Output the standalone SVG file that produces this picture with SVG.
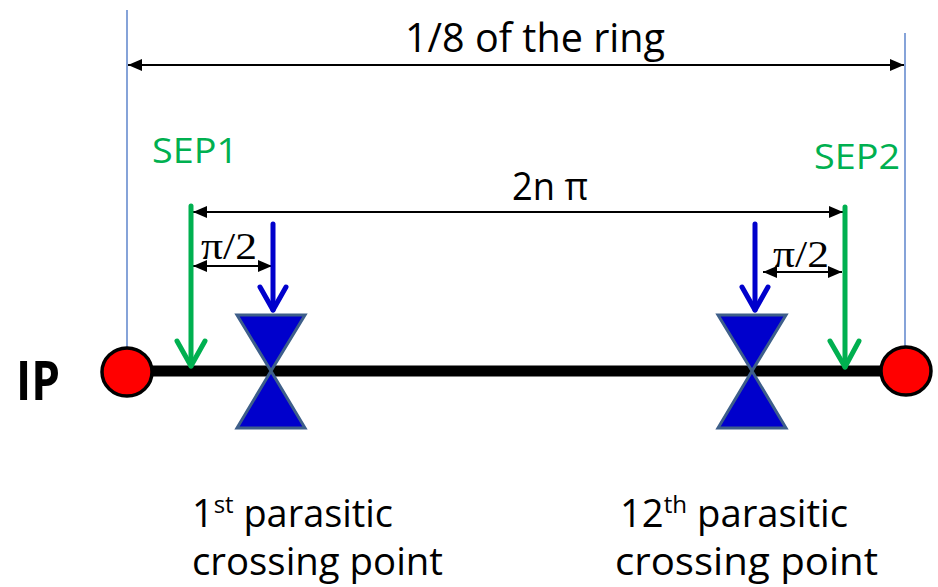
<svg xmlns="http://www.w3.org/2000/svg" width="938" height="587" viewBox="0 0 938 587">
<style>
.txt{font-family:"Open Sans","Liberation Sans",sans-serif;fill:#000}
.sep{font-family:"Open Sans","Liberation Sans",sans-serif;fill:#00B050}
.pi{font-family:"Liberation Serif","Times New Roman",serif;fill:#000}
.ref{stroke:#4472C4;stroke-width:1.3;fill:none}
.dim{stroke:#000;stroke-width:2.2;fill:none}
.green{stroke:#00B050;stroke-width:5;fill:none;stroke-linecap:round;stroke-linejoin:round}
.blue{stroke:#0000CC;stroke-width:5;fill:none;stroke-linecap:round;stroke-linejoin:round}
.bow{fill:#0000CC;stroke:#3E5F8A;stroke-width:3;stroke-linejoin:miter}
.ip{fill:#FF0000;stroke:#000;stroke-width:3.5}
</style>
<defs>
<marker id="ah" markerUnits="userSpaceOnUse" markerWidth="16" markerHeight="14" refX="14" refY="7" orient="auto-start-reverse">
<path d="M0,1 L14,7 L0,13 Z" fill="#000"/>
</marker>
</defs>
<g id="reference-lines">
<line class="ref" x1="127" y1="10" x2="127" y2="371"/>
<line class="ref" x1="905" y1="33" x2="905" y2="371"/>
</g>
<g id="beamline">
<line x1="127" y1="371" x2="906" y2="371" stroke="#000" stroke-width="11"/>
</g>
<g id="connectors">
<line class="dim" x1="128" y1="65" x2="904" y2="65" marker-start="url(#ah)" marker-end="url(#ah)"/>
<line class="dim" x1="193" y1="212" x2="843" y2="212" marker-start="url(#ah)" marker-end="url(#ah)"/>
<line class="dim" x1="193" y1="266" x2="272" y2="266" marker-start="url(#ah)" marker-end="url(#ah)"/>
<line class="dim" x1="763" y1="272" x2="842" y2="272" marker-start="url(#ah)" marker-end="url(#ah)"/>
</g>
<g id="sep1-arrow">
<line class="green" x1="191" y1="206" x2="191" y2="366"/>
<polyline class="green" points="177,341 191,366 205,341"/>
</g>
<g id="sep2-arrow">
<line class="green" x1="845" y1="207" x2="845" y2="367"/>
<polyline class="green" points="830,341 845,367 859,341"/>
</g>
<g id="pc1-arrow">
<line class="blue" x1="273" y1="224" x2="273" y2="310"/>
<polyline class="blue" points="260,287 273,310 286,287"/>
</g>
<g id="pc12-arrow">
<line class="blue" x1="755" y1="224" x2="755" y2="310"/>
<polyline class="blue" points="742,287 755,310 768,287"/>
</g>
<g id="pc1">
<polygon class="bow" points="237,315 305,315 271,371 305,428 237,428 271,371"/>
</g>
<g id="pc12">
<polygon class="bow" points="718,315 786,315 752,371 786,428 718,428 752,371"/>
</g>
<g id="ip-left">
<ellipse class="ip" cx="127" cy="372" rx="25" ry="24"/>
</g>
<g id="ip-right">
<ellipse class="ip" cx="906" cy="371" rx="25" ry="24"/>
</g>
<g id="labels">
<text class="txt" x="405" y="52" font-size="40" textLength="260" lengthAdjust="spacingAndGlyphs">1/8 of the ring</text>
<text class="txt" x="512" y="200" font-size="38" textLength="76" lengthAdjust="spacingAndGlyphs">2n π</text>
<text class="sep" x="152" y="163" font-size="35" textLength="86" lengthAdjust="spacingAndGlyphs">SEP1</text>
<text class="sep" x="814" y="169" font-size="35" textLength="86" lengthAdjust="spacingAndGlyphs">SEP2</text>
<text class="pi" x="201" y="259" font-size="37" textLength="56" lengthAdjust="spacingAndGlyphs">π/2</text>
<text class="pi" x="773" y="267" font-size="37" textLength="56" lengthAdjust="spacingAndGlyphs">π/2</text>
<text class="txt" x="16" y="400" font-size="53" font-weight="bold" textLength="44" lengthAdjust="spacingAndGlyphs">IP</text>
<text class="txt" x="192" y="527" font-size="38" textLength="201" lengthAdjust="spacingAndGlyphs">1<tspan font-size="24" dy="-14">st</tspan><tspan dy="14"> parasitic</tspan></text>
<text class="txt" x="192" y="575" font-size="38" textLength="251" lengthAdjust="spacingAndGlyphs">crossing point</text>
<text class="txt" x="620" y="527" font-size="38" textLength="228" lengthAdjust="spacingAndGlyphs">12<tspan font-size="24" dy="-14">th</tspan><tspan dy="14"> parasitic</tspan></text>
<text class="txt" x="615" y="575" font-size="38" textLength="263" lengthAdjust="spacingAndGlyphs">crossing point</text>
</g>
</svg>
